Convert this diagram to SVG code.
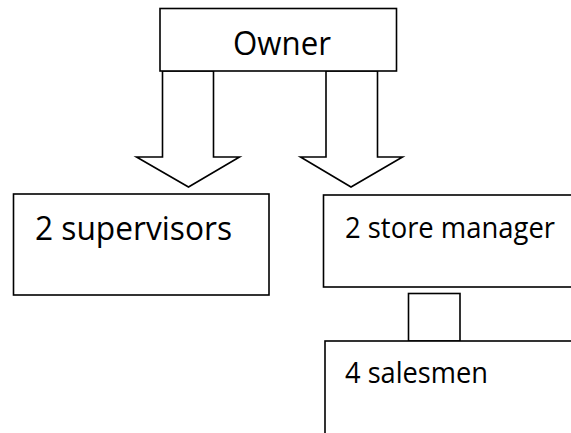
<svg xmlns="http://www.w3.org/2000/svg" width="571" height="433" viewBox="0 0 571 433">
<style>
.box{fill:#fff;stroke:#000;stroke-width:1.6}
.arr{fill:#fff;stroke:#000;stroke-width:1.6;stroke-linejoin:miter}
.t{font-family:"Open Sans","Liberation Sans",sans-serif;fill:#000}
</style>
<rect width="571" height="433" fill="#fff"/>
<g id="connectors">
<polygon class="arr" points="162.5,71 213.5,71 213.5,157 239.5,157 188.5,187 136.5,157 162.5,157"/>
<polygon class="arr" points="326,71 377.5,71 377.5,157 402.5,157 351,187 300.5,157 326,157"/>
<rect class="box" x="408.5" y="293.5" width="51.5" height="47.5"/>
</g>
<g id="owner">
<rect class="box" x="160" y="8.5" width="236.5" height="62.5"/>
<text class="t" x="233" y="55" font-size="32.5" textLength="98" lengthAdjust="spacingAndGlyphs">Owner</text>
</g>
<g id="supervisors">
<rect class="box" x="13.5" y="194" width="255.5" height="101"/>
<text class="t" x="35" y="240" font-size="32.5" textLength="197" lengthAdjust="spacingAndGlyphs">2 supervisors</text>
</g>
<g id="store-manager">
<rect class="box" x="323.5" y="195" width="260" height="92"/>
<text class="t" x="345" y="238" font-size="28.5" textLength="210" lengthAdjust="spacingAndGlyphs">2 store manager</text>
</g>
<g id="salesmen">
<rect class="box" x="325" y="341" width="260" height="110"/>
<text class="t" x="345" y="383" font-size="28.5" textLength="143" lengthAdjust="spacingAndGlyphs">4 salesmen</text>
</g>
</svg>
